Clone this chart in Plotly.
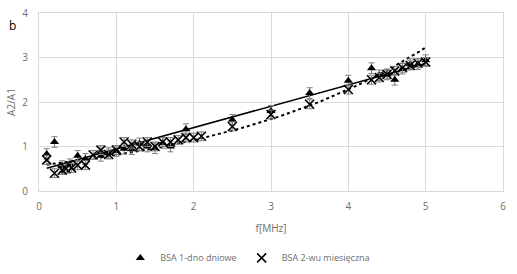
import numpy as np
import plotly.graph_objects as go

# Series 1: BSA 1-dno dniowe (triangles)
x1 = [0.1, 0.2, 0.3, 0.4, 0.5, 0.6, 0.8, 0.9, 1.0, 1.1, 1.2, 1.3, 1.4, 1.5, 1.6, 1.7,
      1.9, 2.5, 3.0, 3.5, 4.0, 4.3, 4.4, 4.5, 4.6, 4.7, 4.8, 4.9, 5.0]
y1 = [0.83, 1.1, 0.56, 0.6, 0.79, 0.72, 0.79, 0.85, 0.9, 0.95, 0.94, 1.07, 1.0, 0.96, 1.08, 1.0,
      1.39, 1.6, 1.8, 2.2, 2.48, 2.76, 2.6, 2.62, 2.5, 2.75, 2.85, 2.85, 2.94]
e1 = [0.12] * len(x1)

# Series 2: BSA 2-wu miesięczna (crosses)
x2 = [0.1, 0.2, 0.3, 0.35, 0.42, 0.5, 0.6, 0.7, 0.8, 0.9, 1.0, 1.1, 1.2, 1.3, 1.4, 1.5, 1.6,
      1.7, 1.8, 1.9, 2.0, 2.1, 2.5, 3.0, 3.5, 4.0, 4.3, 4.4, 4.5, 4.6, 4.7, 4.8, 4.9, 5.0]
y2 = [0.7, 0.4, 0.47, 0.5, 0.52, 0.58, 0.58, 0.81, 0.92, 0.82, 0.92, 1.1, 1.05, 1.0, 1.1, 1.0, 1.1,
      1.1, 1.15, 1.2, 1.2, 1.23, 1.45, 1.72, 1.95, 2.28, 2.5, 2.55, 2.62, 2.7, 2.77, 2.82, 2.87, 2.9]
e2 = [0.1] * len(x2)

name1 = "BSA 1-dno dniowe"
name2 = "BSA 2-wu miesięczna"

# Trendlines fitted from data (linear for series 1, exponential for series 2)
p1 = np.polyfit(x1, y1, 1)
tx = np.linspace(0.1, 5.0, 60)
ty1 = np.polyval(p1, tx)
p2 = np.polyfit(x2, np.log(y2), 1)
ty2 = np.exp(np.polyval(p2, tx))

grey = "#6e6e6e"
grid = "#d9d9d9"
font = "Open Sans"

fig = go.Figure()
fig.add_trace(go.Scatter(x=tx, y=ty1, mode="lines", line=dict(color="black", width=1.5),
                         showlegend=False, hoverinfo="skip"))
fig.add_trace(go.Scatter(x=tx, y=ty2, mode="lines", line=dict(color="black", width=2, dash="dot"),
                         showlegend=False, hoverinfo="skip"))
fig.add_trace(go.Scatter(x=x1, y=y1, mode="markers", name=name1,
                         marker=dict(symbol="triangle-up", size=8, color="black"),
                         error_y=dict(type="data", array=e1, color="#7f7f7f", thickness=1, width=3)))
fig.add_trace(go.Scatter(x=x2, y=y2, mode="markers", name=name2,
                         marker=dict(symbol="x-thin", size=9, line=dict(color="black", width=1.6)),
                         error_y=dict(type="data", array=e2, color="#7f7f7f", thickness=1, width=3)))

fig.update_layout(
    width=517, height=274,
    margin=dict(l=39, r=14, t=13, b=83, autoexpand=False),
    paper_bgcolor="white", plot_bgcolor="white",
    font=dict(family=font, size=10, color=grey),
    legend=dict(orientation="h", x=0.45, xanchor="center", y=-0.376, yanchor="middle",
                font=dict(size=9, color=grey), itemwidth=30, tracegroupgap=0),
    annotations=[dict(text="b", x=-0.07, y=0.93, xref="paper", yref="paper", showarrow=False,
                      xanchor="left", yanchor="middle", font=dict(size=12, color="black"))],
)
fig.update_xaxes(range=[0, 6], dtick=1, showgrid=True, gridcolor=grid, gridwidth=1,
                 zeroline=False, showline=True, linecolor=grid, mirror=True,
                 ticks="", ticklabelstandoff=6, tickfont=dict(size=10, color=grey),
                 title=dict(text="f[MHz]", font=dict(size=10, color=grey), standoff=12))
fig.update_yaxes(range=[0, 4], dtick=1, showgrid=True, gridcolor=grid, gridwidth=1,
                 zeroline=False, showline=True, linecolor=grid, mirror=True,
                 ticks="", ticklabelstandoff=8, tickfont=dict(size=10, color=grey),
                 title=dict(text="A2/A1", font=dict(size=10, color=grey), standoff=4))

fig.write_html("out.html")
